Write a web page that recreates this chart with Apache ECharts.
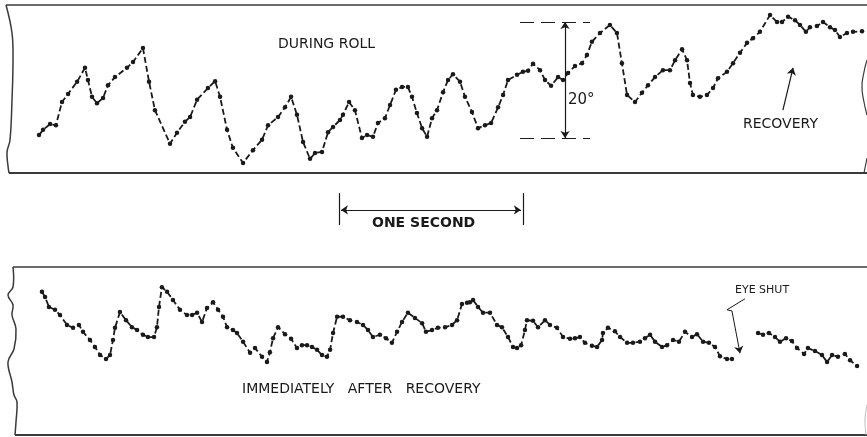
<!DOCTYPE html>
<html>
<head>
<meta charset="utf-8">
<script src="https://cdn.jsdelivr.net/npm/echarts@6/dist/echarts.min.js"></script>
<style>
html,body{margin:0;padding:0;background:#fff;}
#chart{width:867px;height:437px;}
</style>
</head>
<body>
<div id="chart"></div>
<script>
// Time in seconds, eye position in degrees
var rollTime = [0,0.022,0.060,0.092,0.125,0.158,0.207,0.250,0.266,0.288,0.315,0.348,0.375,0.413,0.478,0.511,0.565,0.598,0.630,0.712,0.750,0.793,0.821,0.859,0.918,0.957,0.984,1.022,1.054,1.109,1.163,1.212,1.245,1.299,1.337,1.370,1.402,1.435,1.473,1.500,1.538,1.571,1.598,1.636,1.652,1.685,1.717,1.755,1.783,1.815,1.842,1.880,1.908,1.940,1.973,2.005,2.027,2.054,2.082,2.109,2.136,2.163,2.196,2.223,2.250,2.288,2.315,2.353,2.386,2.424,2.457,2.495,2.522,2.549,2.598,2.630,2.658,2.685,2.723,2.750,2.783,2.821,2.848,2.875,2.913,2.951,2.978,3.005,3.049,3.103,3.141,3.168,3.196,3.239,3.277,3.310,3.348,3.391,3.429,3.457,3.495,3.522,3.538,3.554,3.592,3.630,3.663,3.690,3.739,3.772,3.810,3.848,3.880,3.918,3.973,4.011,4.038,4.071,4.109,4.136,4.168,4.190,4.228,4.261,4.299,4.326,4.353,4.391,4.424,4.473];
var rollDeg = [0.5,1.4,2.4,2.2,6.2,7.6,9.7,12.1,10.0,7.1,6.0,6.9,9.1,10.5,12.1,13.1,15.5,9.7,4.8,-1.0,0.9,2.8,3.6,6.6,8.6,9.8,7.1,1.4,-1.7,-4.3,-2.1,-0.3,2.2,3.6,5.3,7.1,4.0,-0.7,-3.6,-2.6,-2.4,1.0,1.9,3.1,4.0,6.2,4.8,0,0.5,0.2,2.6,3.4,5.7,8.3,8.8,8.8,7.1,4.3,1.7,0.2,3.4,4.8,7.9,10.0,11.0,9.7,7.1,4.5,1.7,2.2,2.6,5.3,7.4,10.0,10.9,11.4,11.6,12.8,11.7,10.0,9.0,10.5,10.0,11.2,12.4,12.9,14.3,16.6,18.1,19.5,18.1,12.9,7.4,6.2,7.8,9.1,10.5,11.7,11.7,13.4,15.3,13.4,9.5,7.4,7.1,7.4,8.6,10.3,11.4,12.9,14.7,16.4,17.2,18.3,21.2,20.0,20.0,20.9,20.3,19.5,18.3,19.1,19.3,20.0,19.1,18.6,17.4,18.1,18.3,18.4];

var afterTime = [0.016,0.033,0.054,0.087,0.114,0.152,0.185,0.217,0.239,0.277,0.304,0.332,0.364,0.386,0.402,0.413,0.440,0.473,0.505,0.533,0.565,0.592,0.625,0.641,0.652,0.668,0.696,0.728,0.766,0.804,0.832,0.859,0.886,0.913,0.946,0.973,1.000,1.022,1.054,1.076,1.109,1.147,1.174,1.212,1.239,1.255,1.272,1.299,1.337,1.370,1.402,1.429,1.457,1.484,1.511,1.538,1.565,1.582,1.598,1.620,1.652,1.690,1.728,1.761,1.788,1.815,1.853,1.886,1.918,1.946,1.973,2.005,2.043,2.082,2.103,2.136,2.168,2.207,2.245,2.272,2.299,2.326,2.342,2.359,2.386,2.413,2.451,2.489,2.516,2.549,2.576,2.598,2.620,2.641,2.652,2.685,2.712,2.750,2.777,2.815,2.848,2.886,2.913,2.940,2.967,3.005,3.033,3.060,3.065,3.092,3.130,3.158,3.196,3.228,3.266,3.293,3.321,3.348,3.386,3.413,3.446,3.478,3.511,3.549,3.576,3.609,3.641,3.674,3.701,3.739,3.766];
var afterDeg = [15.2,14.3,12.6,12.1,11.2,9.5,9.0,9.5,8.3,6.9,5.7,4.3,3.6,4.3,6.9,9.0,11.7,10.3,9.1,8.6,7.8,7.4,7.4,9.1,12.6,16.0,15.2,13.8,12.1,11.2,11.2,11.6,10.0,12.4,13.4,12.1,10.9,9.1,8.6,8.1,6.6,4.7,5.5,4.0,3.1,4.8,7.2,9.1,7.9,7.1,5.5,6.0,6.0,5.7,5.2,4.3,4.0,5.2,8.1,10.9,10.9,10.3,10.0,9.5,8.6,7.4,7.8,7.2,6.4,8.3,10.0,11.6,10.7,9.8,8.3,8.6,9.0,9.1,9.5,10.3,13.1,13.3,13.4,13.8,12.6,11.6,11.6,9.5,9.1,7.4,5.7,5.5,6.0,8.6,10.3,10.2,9.1,10.3,9.5,9.0,7.4,7.1,7.2,7.4,6.4,5.9,5.7,6.9,8.1,9.0,8.4,7.4,6.4,6.4,6.6,7.2,7.8,6.6,5.7,6.0,6.9,6.6,8.3,7.4,7.9,6.6,6.4,5.7,4.1,3.6,3.6];

var shutTime = [3.908,3.935,3.967,4.000,4.027,4.060,4.092,4.120,4.158,4.179,4.217,4.255,4.283,4.310,4.342,4.380,4.408,4.446];
var shutDeg = [8.1,7.8,8.1,7.4,6.6,7.2,6.7,5.5,4.5,5.5,5.0,4.3,3.1,4.3,4.0,4.5,3.4,2.4];

function zip(a, b) { return a.map(function (v, i) { return [v, b[i]]; }); }

var ink = '#1a1a1a';
var frame = '#3a3a3a';
var font = '"DejaVu Sans", sans-serif';

var traceStyle = {
  type: 'line',
  showSymbol: true,
  symbol: 'circle',
  symbolSize: 4.5,
  itemStyle: { color: ink },
  lineStyle: { color: ink, width: 1.8, type: [6, 3] },
  animation: false,
  silent: true,
  z: 3
};

function mk(o) { return Object.assign({}, traceStyle, o); }

var solid = { color: ink, width: 1.2, type: 'solid' };
var chart = echarts.init(document.getElementById('chart'), null, { renderer: 'canvas' });

chart.setOption({
  backgroundColor: '#fff',
  animation: false,
  grid: [
    { left: 0, right: 0, top: 0, height: 262, containLabel: false },
    { left: 0, right: 0, top: 262, height: 175, containLabel: false }
  ],
  xAxis: [
    { type: 'value', gridIndex: 0, min: -0.212, max: 4.5, show: false },
    { type: 'value', gridIndex: 1, min: -0.212, max: 4.5, show: false }
  ],
  yAxis: [
    { type: 'value', gridIndex: 0, min: -21.38, max: 23.79, show: false },
    { type: 'value', gridIndex: 1, min: -9.83, max: 20.34, show: false }
  ],
  series: [
    mk({
      name: 'During roll', xAxisIndex: 0, yAxisIndex: 0, data: zip(rollTime, rollDeg),
      markLine: {
        silent: true, animation: false, symbol: ['none', 'none'], symbolSize: 7,
        label: { show: false }, lineStyle: solid,
        data: [
          // 20 degree scale bar
          [{ coord: [2.859, 0], symbol: 'arrow' }, { coord: [2.859, 20], symbol: 'arrow' }],
          [{ coord: [2.614, 20], lineStyle: { color: ink, width: 1, type: [14, 7] } }, { coord: [2.995, 20] }],
          [{ coord: [2.614, 0], lineStyle: { color: ink, width: 1, type: [14, 7] } }, { coord: [2.995, 0] }],
          // one second bar
          [{ coord: [1.641, -12.4], symbol: 'arrow' }, { coord: [2.619, -12.4], symbol: 'arrow' }],
          [{ coord: [1.630, -9.5] }, { coord: [1.630, -15.0] }],
          [{ coord: [2.630, -9.5] }, { coord: [2.630, -15.0] }],
          // recovery pointer
          [{ coord: [4.043, 4.8] }, { coord: [4.098, 12.1], symbol: 'arrow' }]
        ]
      }
    }),
    mk({ name: 'After recovery', xAxisIndex: 1, yAxisIndex: 1, data: zip(afterTime, afterDeg) }),
    mk({
      name: 'Eye shut', xAxisIndex: 1, yAxisIndex: 1, data: zip(shutTime, shutDeg),
      markLine: {
        silent: true, animation: false, symbol: ['none', 'none'], symbolSize: 7,
        label: { show: false }, lineStyle: { color: ink, width: 1, type: 'solid' },
        data: [
          [{ coord: [3.837, 14.0] }, { coord: [3.739, 12.1] }],
          [{ coord: [3.739, 12.1] }, { coord: [3.766, 11.9] }],
          [{ coord: [3.766, 11.9] }, { coord: [3.810, 4.6], symbol: 'arrow' }]
        ]
      }
    })
  ],
  graphic: [
    // top panel frame
    { type: 'polyline', shape: { points: [[6, 5], [867, 5]] }, style: { stroke: frame, lineWidth: 1.5, fill: null } },
    { type: 'polyline', shape: { points: [[9, 173], [867, 173]] }, style: { stroke: frame, lineWidth: 2, fill: null } },
    { type: 'polyline', shape: { points: [[6, 5], [12, 33], [13, 60], [12, 100], [10, 140], [7, 152], [8, 166], [9, 173]], smooth: 0.4 }, style: { stroke: frame, lineWidth: 1.5, fill: null } },
    { type: 'polyline', shape: { points: [[867, 60], [864, 72], [862, 87], [864, 102], [867, 115]], smooth: 0.5 }, style: { stroke: frame, lineWidth: 1.2, fill: null } },
    { type: 'polyline', shape: { points: [[867, 158], [864, 173]] }, style: { stroke: frame, lineWidth: 1.2, fill: null } },
    // bottom panel frame
    { type: 'polyline', shape: { points: [[13, 267], [867, 267]] }, style: { stroke: frame, lineWidth: 1.5, fill: null } },
    { type: 'polyline', shape: { points: [[15, 435], [867, 435]] }, style: { stroke: frame, lineWidth: 2, fill: null } },
    { type: 'polyline', shape: { points: [[13, 267], [13, 287], [8, 295], [13, 305], [12, 315], [16, 329], [14, 349], [8, 362], [12, 382], [14, 395], [17, 402], [16, 422], [15, 435]], smooth: 0.4 }, style: { stroke: frame, lineWidth: 1.5, fill: null } },
    { type: 'polyline', shape: { points: [[867, 405], [865, 420], [866, 435]], smooth: 0.4 }, style: { stroke: '#bbb', lineWidth: 1, fill: null } },
    // labels
    { type: 'text', left: 278, top: 37, style: { text: 'DURING ROLL', font: '14px ' + font, fill: ink } },
    { type: 'text', left: 568, top: 93, style: { text: '20°', font: '15px ' + font, fill: ink } },
    { type: 'text', left: 743, top: 117, style: { text: 'RECOVERY', font: '14px ' + font, fill: ink } },
    { type: 'text', left: 372, top: 216, style: { text: 'ONE SECOND', font: 'bold 14px ' + font, fill: ink } },
    { type: 'text', left: 242, top: 382, style: { text: 'IMMEDIATELY   AFTER   RECOVERY', font: '14px ' + font, fill: ink } },
    { type: 'text', left: 735, top: 285, style: { text: 'EYE SHUT', font: '11px ' + font, fill: ink } }
  ]
});
</script>
</body>
</html>
